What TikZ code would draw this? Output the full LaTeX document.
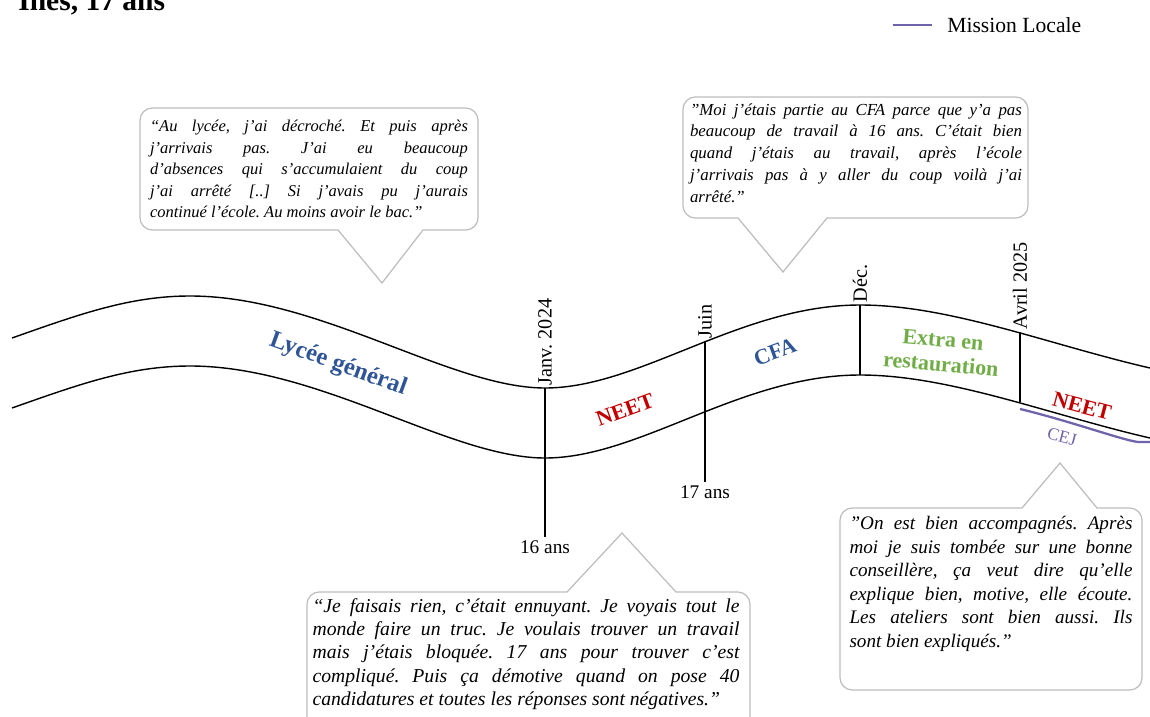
\documentclass[tikz,border=0pt]{standalone}
\usepackage{fontspec}
\setmainfont[Ligatures=Common]{Liberation Serif}
\frenchspacing
\definecolor{bleulycee}{HTML}{2F5597}
\definecolor{rougeneet}{HTML}{C00000}
\definecolor{vertextra}{HTML}{70AD47}
\definecolor{violetml}{HTML}{6E64AC}
\definecolor{grisbulle}{HTML}{BDBDBD}

\begin{document}
\begin{tikzpicture}[x=0.02cm, y=-0.02cm,
    bande/.style={line width=0.8pt},
    repere/.style={line width=0.8pt},
    bulle/.style={draw=grisbulle, line width=0.7pt, fill=white},
    date/.style={rotate=90, anchor=west, inner sep=1.5pt, font=\fontsize{11.5}{13}\selectfont},
    age/.style={anchor=north, inner sep=2pt, font=\fontsize{11}{13}\selectfont},
    etape/.style={align=center, font=\bfseries\fontsize{12.5}{14}\selectfont},
    citation/.style={inner sep=0pt, align=justify}]
    \useasboundingbox (0,0) rectangle (1150,717);

    \node[anchor=base west, inner sep=0pt, font=\bfseries\fontsize{16.8}{18}\selectfont] (titre) at (18,10) {Ines, 17 ans};
    \node[anchor=west, inner sep=0pt, font=\fontsize{12.3}{14}\selectfont] (legml) at (947,25) {Mission Locale};
    \coordinate (legml0) at (893,25);
    \draw[violetml, line width=1.3pt] (legml0) -- ++(39,0);

    \foreach \d in {0,70} {
        \draw[bande, shift={(0,\d)}] (12,338) .. controls (80,314) and (130,296) .. (190,296)
            .. controls (320,296) and (450,388) .. (545,388)
            .. controls (640,388) and (740,305) .. (860,305)
            .. controls (950,305) and (1050,345) .. (1150,368);
    }

    \coordinate (janvH) at (545,388);
    \coordinate (janvB) at (545,537);
    \coordinate (juinH) at (705,341);
    \coordinate (juinB) at (705,482);
    \coordinate (decH) at (860,305);
    \coordinate (decB) at (860,375);
    \coordinate (avrH) at (1020,332);
    \coordinate (avrB) at (1020,402);
    \draw[repere] (janvH) -- (janvB);
    \draw[repere] (juinH) -- (juinB);
    \draw[repere] (decH) -- (decB);
    \draw[repere] (avrH) -- (avrB);

    \node[date] (janv) at (janvH) {Janv. 2024};
    \node[date] (juin) at (juinH) {Juin};
    \node[date] (dec) at (decH) {Déc.};
    \node[date] (avr) at (avrH) {Avril 2025};
    \node[age] (a16) at (janvB) {16 ans};
    \node[age] (a17) at (juinB) {17 ans};

    \node[etape, text=bleulycee, rotate=-20, font=\bfseries\fontsize{14}{16}\selectfont] (lycee) at (338,365) {Lycée général};
    \node[etape, text=rougeneet, rotate=20] (neet1) at (625,410) {NEET};
    \node[etape, text=bleulycee, rotate=20] (cfa) at (775,352) {CFA};
    \node[etape, text=vertextra, rotate=-5] (extra) at (942,352) {Extra en\\restauration};
    \node[etape, text=rougeneet, rotate=-15] (neet2) at (1082,406) {NEET};

    \coordinate (cej0) at (1020,409);
    \coordinate (cej1) at (1150,442);
    \draw[violetml, line width=1.3pt] (cej0) .. controls (1070,421) and (1122,440) .. (1138,442) -- (cej1);
    \node[text=violetml, rotate=-15, font=\fontsize{10}{12}\selectfont] (cej) at (1062,437) {CEJ};

    \draw[bulle] (300,108) [rounded corners=7pt] -- (478,108) -- (478,230) [sharp corners] -- (423,230) -- (382,283)
        -- (338,230) [rounded corners=7pt] -- (140,230) -- (140,108) -- cycle;
    \draw[bulle] (850,97) [rounded corners=7pt] -- (1028,97) -- (1028,218) [sharp corners] -- (827,218) -- (783,272)
        -- (738,218) [rounded corners=7pt] -- (683,218) -- (683,97) -- cycle;
    \draw[bulle] (450,592) [rounded corners=7pt] -- (307,592) -- (307,740) -- (750,740) -- (750,592) [sharp corners] -- (676,592)
        -- (622,533) -- (567,592) -- cycle;
    \draw[bulle] (900,508) [rounded corners=7pt] -- (840,508) -- (840,690) -- (1142,690) -- (1142,508) [sharp corners] -- (1097,508)
        -- (1060,463) -- (1022,508) -- cycle;

    \node[citation, text width=6.36cm, font=\itshape\fontsize{9.4}{12.2}\selectfont] (cit1) at (309,169) {“Au lycée, j'ai décroché. Et puis après\linebreak
        j'arrivais pas. J'ai eu beaucoup\linebreak
        d'absences qui s'accumulaient du coup\linebreak
        j'ai arrêté [..] Si j’avais pu j’aurais\linebreak
        continué l'école. Au moins avoir le bac.”};
    \node[citation, text width=6.64cm, font=\itshape\fontsize{9.6}{12.4}\selectfont] (cit2) at (856,153) {"Moi j'étais partie au CFA parce que y'a pas\linebreak
        beaucoup de travail à 16 ans. C'était bien\linebreak
        quand j'étais au travail, après l'école\linebreak
        j'arrivais pas à y aller du coup voilà j’ai\linebreak
        arrêté."};
    \node[citation, text width=8.54cm, font=\itshape\fontsize{11.2}{13.2}\selectfont] (cit3) at (526,654) {“Je faisais rien, c’était ennuyant. Je voyais tout le\linebreak
        monde faire un truc. Je voulais trouver un travail\linebreak
        mais j’étais bloquée. 17 ans pour trouver c’est\linebreak
        compliqué. Puis ça démotive quand on pose 40\linebreak
        candidatures et toutes les réponses sont négatives.”};
    \node[citation, text width=5.66cm, font=\itshape\fontsize{10.9}{13.4}\selectfont] (cit4) at (991,584) {"On est bien accompagnés. Après\linebreak
        moi je suis tombée sur une bonne\linebreak
        conseillère, ça veut dire qu’elle\linebreak
        explique bien, motive, elle écoute.\linebreak
        Les ateliers sont bien aussi. Ils\linebreak
        sont bien expliqués."};
\end{tikzpicture}
\end{document}
